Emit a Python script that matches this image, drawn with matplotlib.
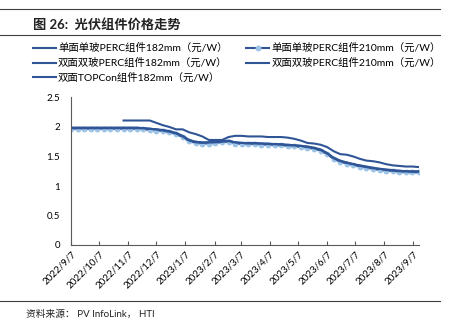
import matplotlib
matplotlib.use('Agg')
import matplotlib.pyplot as plt
from matplotlib.lines import Line2D
import numpy as np
import pandas as pd

plt.rcParams['font.family'] = ['Lato', 'Noto Sans CJK SC', 'DejaVu Sans']

# weekly price points, yuan/W
dates = pd.date_range('2022-09-07', periods=54, freq='7D')

perc_mono_182 = [1.98, 1.98, 1.98, 1.98, 1.98, 1.98, 1.98, 1.98, 1.98, 1.98, 1.98,
                 1.97, 1.96, 1.95, 1.94, 1.92, 1.89, 1.84, 1.77, 1.74, 1.73,
                 1.73, 1.74, 1.75, 1.76, 1.73, 1.72, 1.72, 1.72, 1.71, 1.71,
                 1.70, 1.70, 1.69, 1.68, 1.67, 1.66, 1.64, 1.61, 1.55, 1.47,
                 1.42, 1.39, 1.36, 1.34, 1.32, 1.30, 1.28, 1.27, 1.26, 1.25,
                 1.24, 1.24, 1.24]
perc_mono_210 = [1.97, 1.97, 1.97, 1.97, 1.97, 1.97, 1.97, 1.97, 1.97, 1.97, 1.97,
                 1.96, 1.95, 1.94, 1.93, 1.91, 1.88, 1.83, 1.76, 1.73, 1.72,
                 1.72, 1.73, 1.74, 1.75, 1.72, 1.71, 1.71, 1.71, 1.70, 1.70,
                 1.69, 1.69, 1.68, 1.67, 1.66, 1.65, 1.63, 1.60, 1.54, 1.46,
                 1.41, 1.38, 1.35, 1.33, 1.31, 1.29, 1.27, 1.26, 1.25, 1.24,
                 1.23, 1.23, 1.23]
perc_bi_182 = [1.99, 1.99, 1.99, 1.99, 1.99, 1.99, 1.99, 1.99, 1.99, 1.99, 1.99,
               1.98, 1.97, 1.96, 1.95, 1.93, 1.90, 1.85, 1.78, 1.75, 1.74,
               1.74, 1.75, 1.76, 1.77, 1.74, 1.73, 1.73, 1.73, 1.72, 1.72,
               1.71, 1.71, 1.70, 1.69, 1.68, 1.67, 1.65, 1.62, 1.56, 1.48,
               1.43, 1.40, 1.37, 1.35, 1.33, 1.31, 1.29, 1.28, 1.27, 1.26,
               1.25, 1.25, 1.25]
perc_bi_210 = [1.98, 1.98, 1.98, 1.98, 1.98, 1.98, 1.98, 1.98, 1.98, 1.98, 1.98,
               1.98, 1.97, 1.96, 1.94, 1.92, 1.89, 1.84, 1.77, 1.74, 1.73,
               1.74, 1.74, 1.75, 1.76, 1.74, 1.73, 1.72, 1.72, 1.72, 1.71,
               1.71, 1.70, 1.69, 1.69, 1.68, 1.66, 1.64, 1.61, 1.55, 1.47,
               1.42, 1.39, 1.37, 1.34, 1.32, 1.30, 1.29, 1.27, 1.26, 1.25,
               1.25, 1.24, 1.24]
topcon_182 = [np.nan, np.nan, np.nan, np.nan, np.nan, np.nan, np.nan, np.nan,
              2.11, 2.11, 2.11, 2.11, 2.11,
              2.07, 2.03, 2.00, 1.96, 1.96, 1.91, 1.88, 1.84, 1.78, 1.78,
              1.78, 1.83, 1.85, 1.85, 1.84, 1.84, 1.84, 1.83, 1.83, 1.83,
              1.82, 1.80, 1.77, 1.73, 1.72, 1.70, 1.66, 1.59, 1.54, 1.53,
              1.50, 1.46, 1.43, 1.42, 1.40, 1.37, 1.35, 1.34, 1.33, 1.33,
              1.32]

labels = ['单面单玻PERC组件182mm（元/W）', '单面单玻PERC组件210mm（元/W）',
          '双面双玻PERC组件182mm（元/W）', '双面双玻PERC组件210mm（元/W）',
          '双面TOPCon组件182mm（元/W）']
tick_dates = pd.date_range('2022-09-01', periods=13, freq='MS') + pd.Timedelta(days=6)
tick_labels = [f'{d.year}/{d.month}/{d.day}' for d in tick_dates]

dark = '#2F5597'
light = '#9DC3E6'

fig = plt.figure(figsize=(4.53, 3.23), dpi=100)
ax = fig.add_axes([71 / 453, 1 - 245 / 323, (419 - 71) / 453, (245 - 97.5) / 323])

h1, = ax.plot(dates, perc_mono_182, color=dark, lw=1.5)
h2, = ax.plot(dates, perc_mono_210, color=dark, lw=1.5, marker='o', ms=3.2,
              mfc=light, mec=light)
h3, = ax.plot(dates, perc_bi_182, color=dark, lw=1.5)
h4, = ax.plot(dates, perc_bi_210, color=dark, lw=1.5)
h5, = ax.plot(dates, topcon_182, color=dark, lw=1.5)

ax.set_ylim(0, 2.5)
ax.set_yticks([0, 0.5, 1, 1.5, 2, 2.5])
ax.set_yticklabels(['0', '0.5', '1', '1.5', '2', '2.5'])
ax.set_xlim(dates[0], pd.Timestamp('2023-09-13'))
ax.set_xticks(tick_dates)
ax.set_xticklabels(tick_labels, rotation=45, ha='right', rotation_mode='anchor')
ax.tick_params(axis='y', length=0, labelsize=7, pad=8)
ax.tick_params(axis='x', direction='in', length=3, labelsize=7, color='#595959', pad=3)
for s in ['top', 'right']:
    ax.spines[s].set_visible(False)
for s in ['left', 'bottom']:
    ax.spines[s].set_color('#595959')
    ax.spines[s].set_linewidth(0.8)

# legend: column-first fill, so order s1, s3, s5 | s2, s4
leg_h = [h1, h3, h5, h2, h4]
leg_l = [labels[0], labels[2], labels[4], labels[1], labels[3]]
fig.legend(leg_h, leg_l, loc='upper left', bbox_to_anchor=(33 / 453, 1 - 43 / 323),
           ncol=2, frameon=False, fontsize=7.5, handlelength=2.2, handletextpad=0.2,
           columnspacing=1.8, labelspacing=0.45, borderpad=0, borderaxespad=0)

# header / footer rules
for y in [9, 35, 301]:
    fig.add_artist(Line2D([0, 440 / 453], [1 - y / 323] * 2, color='#404040', lw=0.8))

fig.text(33 / 453, 1 - 24 / 323, '图 26:  光伏组件价格走势', fontsize=9.5, fontweight='bold',
         va='center', ha='left', color='#222222')
fig.text(26 / 453, 1 - 314 / 323, '资料来源： PV InfoLink， HTI', fontsize=7,
         va='center', ha='left', color='#222222')

fig.savefig('out.png', dpi=100)
